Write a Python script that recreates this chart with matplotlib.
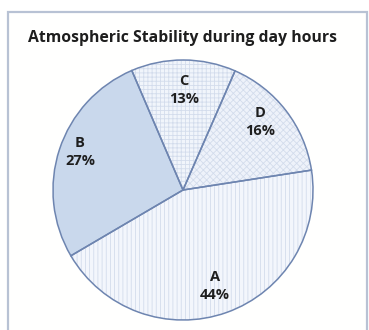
import matplotlib
matplotlib.use("Agg")
import matplotlib.pyplot as plt
from matplotlib.patches import Rectangle

labels = ["A", "B", "C", "D"]
values = [44, 27, 13, 16]
faces = ["#f3f6fc", "#c9d8ec", "#f1f5fb", "#eef2fa"]
hatches = ["||||", None, "++++", "xxxxx"]
title = "Atmospheric Stability during day hours"

plt.rcParams['hatch.linewidth'] = 0.6

fig = plt.figure(figsize=(3.69, 3.30), dpi=100)
fig.patch.set_facecolor("white")

# frame
frame = Rectangle((8/369, -0.02), (367-8)/369, (330-12)/330 + 0.02,
                  transform=fig.transFigure, facecolor="#fffffe",
                  edgecolor="#b8c2d4", linewidth=1.6, zorder=-5)
fig.patches.append(frame)

fig.text(28/369, 1 - 38/330, title, fontsize=11.3, fontweight="bold",
         family="Open Sans", color="#1e1e1e", va="center", ha="left")

cx, cy, r = 183, 190, 130
ax = fig.add_axes([(cx - r)/369, 1 - (cy + r)/330, 2*r/369, 2*r/330])
ax.patch.set_visible(False)
wedges, _ = ax.pie(values, startangle=8.8, counterclock=False, radius=1,
                   colors=faces,
                   wedgeprops=dict(edgecolor="#d3dcec", linewidth=0))
for w, h in zip(wedges, hatches):
    if h:
        w.set_hatch(h)
outlines, _ = ax.pie(values, startangle=8.8, counterclock=False, radius=1,
                     wedgeprops=dict(fill=False, edgecolor="#6e85b0",
                                     linewidth=1.1))
ax.set_xlim(-1, 1)
ax.set_ylim(-1, 1)
ax.set_aspect("auto")

label_pos = {"A": (215, 286), "B": (80, 152), "C": (184, 90), "D": (260, 122)}
for lab, v in zip(labels, values):
    x, y = label_pos[lab]
    fig.text(x/369, 1 - y/330, f"{lab}\n{v}%", fontsize=10.5, fontweight="bold",
             family="Open Sans", color="#1e1e1e", ha="center", va="center",
             linespacing=1.4)

fig.savefig("out.png", dpi=100)
